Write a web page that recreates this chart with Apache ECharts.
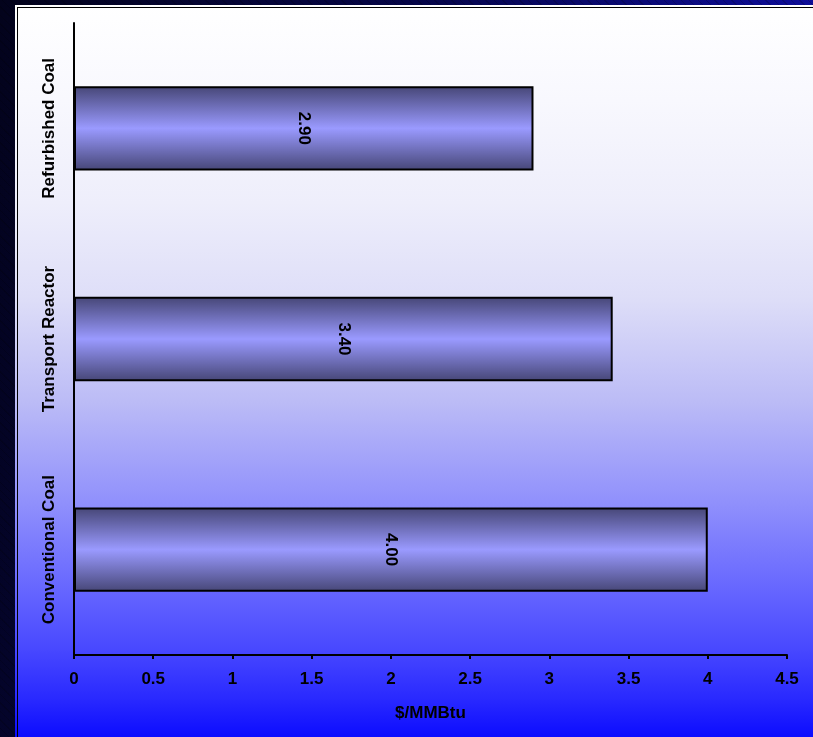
<!DOCTYPE html>
<html>
<head>
<meta charset="utf-8">
<script src="https://cdn.jsdelivr.net/npm/echarts@6/dist/echarts.min.js"></script>
<style>
  html, body { margin: 0; padding: 0; }
  body {
    width: 813px; height: 737px; overflow: hidden; position: relative;
    background:
      repeating-linear-gradient(45deg, rgba(0,0,0,0.18) 0px, rgba(0,0,0,0.18) 1px, rgba(0,0,0,0) 1px, rgba(0,0,0,0) 6px),
      linear-gradient(100deg, #03031c 0%, #06064a 45%, #1010b4 100%);
  }
  #frame {
    position: absolute; left: 15px; top: 5px; width: 798px; height: 732px;
    background: linear-gradient(to bottom,
      #ffffff 0%, #f8f8fe 13%, #eeeefb 27%, #dedef8 40%, #bcbcf6 54%,
      #9090fc 68%, #6262ff 81%, #4848ff 88%, #2828ff 95%, #0c0cff 100%);
  }
  #inner {
    position: absolute; left: 2px; top: 2px; right: 0; bottom: 0;
    border-left: 1px solid #000; border-top: 1px solid #000;
  }
  #chart { position: absolute; left: 0; top: 0; width: 798px; height: 732px; }
</style>
</head>
<body>
<div id="frame"><div id="inner"></div><div id="chart"></div></div>
<script>
// Fuel cost per technology, bottom to top
const categories = ['Conventional Coal', 'Transport Reactor', 'Refurbished Coal'];
const values = [4.00, 3.40, 2.90];
const axisTitle = '$/MMBtu';

const chart = echarts.init(document.getElementById('chart'), null, { renderer: 'canvas' });

const boldText = { fontFamily: 'Liberation Sans, Arial, sans-serif', fontWeight: 'bold', fontSize: 17, color: '#000' };

chart.setOption({
  backgroundColor: 'transparent',
  animation: false,
  grid: { left: 59, right: 26, top: 18, bottom: 82, containLabel: false },
  xAxis: {
    type: 'value',
    min: 0, max: 4.5, interval: 0.5,
    axisLine: { show: true, lineStyle: { color: '#000', width: 2 } },
    axisTick: { show: true, length: 4, lineStyle: { color: '#000', width: 2 } },
    splitLine: { show: false },
    axisLabel: Object.assign({ margin: 16 }, boldText),
    name: axisTitle,
    nameLocation: 'middle',
    nameGap: 50,
    nameTextStyle: boldText
  },
  yAxis: {
    type: 'category',
    data: categories,
    axisLine: { show: true, lineStyle: { color: '#000', width: 2 } },
    axisTick: { show: false },
    splitLine: { show: false },
    axisLabel: Object.assign({ rotate: 90, margin: 16 }, boldText)
  },
  series: [{
    type: 'bar',
    data: values,
    barCategoryGap: '60%',
    itemStyle: {
      borderColor: '#000',
      borderWidth: 2,
      color: new echarts.graphic.LinearGradient(0, 0, 0, 1, [
        { offset: 0, color: '#464676' },
        { offset: 0.5, color: '#9a9aff' },
        { offset: 1, color: '#464676' }
      ])
    },
    label: Object.assign({
      show: true,
      position: 'inside',
      rotate: -90,
      formatter: p => p.value.toFixed(2)
    }, boldText)
  }]
});
</script>
</body>
</html>
